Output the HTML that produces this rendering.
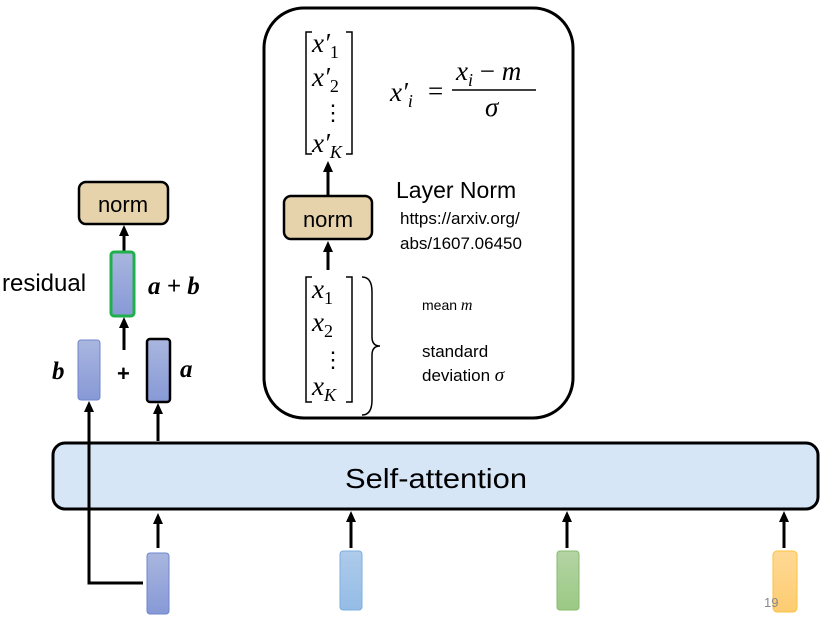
<!DOCTYPE html>
<html><head><meta charset="utf-8"><style>
body{margin:0;width:826px;height:625px;background:#fff;position:relative;overflow:hidden;font-family:"Liberation Sans",sans-serif}
.a{position:absolute}
</style></head><body>
<svg class="a" style="left:0;top:0" width="826" height="625">
<defs>
<linearGradient id="bl" x1="0" y1="0" x2="0" y2="1"><stop offset="0" stop-color="#a9b6df"/><stop offset="1" stop-color="#8799d6"/></linearGradient>
<linearGradient id="lb" x1="0" y1="0" x2="0" y2="1"><stop offset="0" stop-color="#aecbea"/><stop offset="1" stop-color="#94bce6"/></linearGradient>
<linearGradient id="gr" x1="0" y1="0" x2="0" y2="1"><stop offset="0" stop-color="#b4d4a4"/><stop offset="1" stop-color="#9bc984"/></linearGradient>
<linearGradient id="ye" x1="0" y1="0" x2="0" y2="1"><stop offset="0" stop-color="#fed994"/><stop offset="1" stop-color="#fdcc72"/></linearGradient>
</defs>
<rect x="53" y="443" width="765" height="66" rx="12" fill="#d6e6f7" stroke="#000" stroke-width="3"/>
<text x="436" y="488" font-family="Liberation Sans" font-size="28" text-anchor="middle" textLength="182" lengthAdjust="spacingAndGlyphs">Self-attention</text>
<g stroke="#000" stroke-width="3" fill="none">
<line x1="158" y1="548" x2="158" y2="522"/>
<line x1="351" y1="548" x2="351" y2="520"/>
<line x1="567" y1="548" x2="567" y2="520"/>
<line x1="784" y1="548" x2="784" y2="520"/>
<line x1="158" y1="441" x2="158" y2="412"/>
<polyline points="143,583 89,583 89,410"/>
<line x1="124" y1="350" x2="124" y2="326"/>
<line x1="124" y1="252" x2="124" y2="234"/>
<line x1="328" y1="270" x2="328" y2="250"/>
<line x1="328" y1="195" x2="328" y2="170"/>
</g>
<g fill="#000">
<path d="M153,524 L158,513 L163,524z"/>
<path d="M346,522 L351,511 L356,522z"/>
<path d="M562,522 L567,511 L572,522z"/>
<path d="M779,522 L784,511 L789,522z"/>
<path d="M153,414 L158,403 L163,414z"/>
<path d="M84,412 L89,401 L94,412z"/>
<path d="M119,328 L124,317 L129,328z"/>
<path d="M119,236 L124,225 L129,236z"/>
<path d="M323,252 L328,241 L333,252z"/>
<path d="M323,172 L328,161 L333,172z"/>
</g>
<rect x="147" y="553" width="22" height="61" rx="3" fill="url(#bl)" stroke="#6f86cc"/>
<rect x="340" y="551" width="22" height="59" rx="3" fill="url(#lb)" stroke="#7faee0"/>
<rect x="557" y="551" width="22" height="59" rx="3" fill="url(#gr)" stroke="#86bb6e"/>
<rect x="773" y="551" width="24" height="61" rx="4" fill="url(#ye)" stroke="#fcc23c"/>
<text x="764" y="607" font-size="13" fill="#888" font-family="Liberation Sans">19</text>
<rect x="78" y="340" width="22" height="60" rx="3" fill="url(#bl)" stroke="#6f86cc"/>
<rect x="147" y="339" width="23" height="63" rx="3" fill="url(#bl)" stroke="#000" stroke-width="2.5"/>
<rect x="111" y="252" width="23" height="64" rx="3" fill="url(#bl)" stroke="#1fb04c" stroke-width="3"/>
<rect x="79" y="182" width="89" height="42" rx="7" fill="#e6d3ac" stroke="#000" stroke-width="2.5"/>
<text x="123" y="212" font-size="22" text-anchor="middle">norm</text>
<text x="2" y="291" font-size="24">residual</text>
<text x="148" y="294" font-size="25" font-family="Liberation Serif" font-style="italic" font-weight="bold">a + b</text>
<text x="52" y="379" font-size="25" font-family="Liberation Serif" font-style="italic" font-weight="bold">b</text>
<text x="117" y="381" font-size="22" font-weight="bold">+</text>
<text x="180" y="377" font-size="25" font-family="Liberation Serif" font-style="italic" font-weight="bold">a</text>
<rect x="264" y="8" width="309" height="410" rx="40" fill="none" stroke="#000" stroke-width="3"/>
<rect x="284" y="196" width="88" height="43" rx="7" fill="#e6d3ac" stroke="#000" stroke-width="2.5"/>
<text x="328" y="227" font-size="22" text-anchor="middle">norm</text>
<text x="396" y="198" font-size="23">Layer Norm</text>
<text x="400" y="224" font-size="17">https://arxiv.org/</text>
<text x="400" y="249" font-size="17">abs/1607.06450</text>
<text x="422" y="310" font-size="14">mean <tspan font-family="Liberation Serif" font-style="italic" font-size="16">m</tspan></text>
<text x="422" y="357" font-size="17">standard</text>
<text x="422" y="381" font-size="17">deviation <tspan font-family="Liberation Serif" font-style="italic" font-size="19">σ</tspan></text>
<g fill="none" stroke="#000" stroke-width="1.5">
<path d="M312,32 h-6 v122 h6 M346,32 h6 v122 h-6"/>
<path d="M312,277 h-6 v125 h6 M346,277 h6 v125 h-6"/>
<path d="M362,277 q10,0 10,15 v45 q0,9 8,9 q-8,0 -8,9 v45 q0,15 -10,15"/>
</g>
<g font-family="Liberation Serif" font-style="italic" font-size="27">
<text x="312" y="52">x′<tspan font-style="normal" font-size="18" dy="6">1</tspan></text>
<text x="312" y="86">x′<tspan font-style="normal" font-size="18" dy="6">2</tspan></text>
<text x="322" y="120" font-style="normal" font-size="22">⋮</text>
<text x="312" y="152">x′<tspan font-size="18" dy="6">K</tspan></text>
<text x="312" y="298">x<tspan font-style="normal" font-size="18" dy="6">1</tspan></text>
<text x="312" y="331">x<tspan font-style="normal" font-size="18" dy="6">2</tspan></text>
<text x="322" y="367" font-style="normal" font-size="22">⋮</text>
<text x="312" y="395">x<tspan font-size="18" dy="6">K</tspan></text>
<text x="390" y="101">x′<tspan font-size="18" dy="6">i</tspan></text>
<text x="428" y="100" font-style="normal">=</text>
<text x="456" y="80">x<tspan font-size="18" dy="6">i</tspan><tspan dy="-6" font-style="normal"> − </tspan>m</text>
<text x="485" y="116">σ</text>
</g>
<line x1="452" y1="90" x2="536" y2="90" stroke="#000" stroke-width="1.5"/>
</svg>
</body></html>
